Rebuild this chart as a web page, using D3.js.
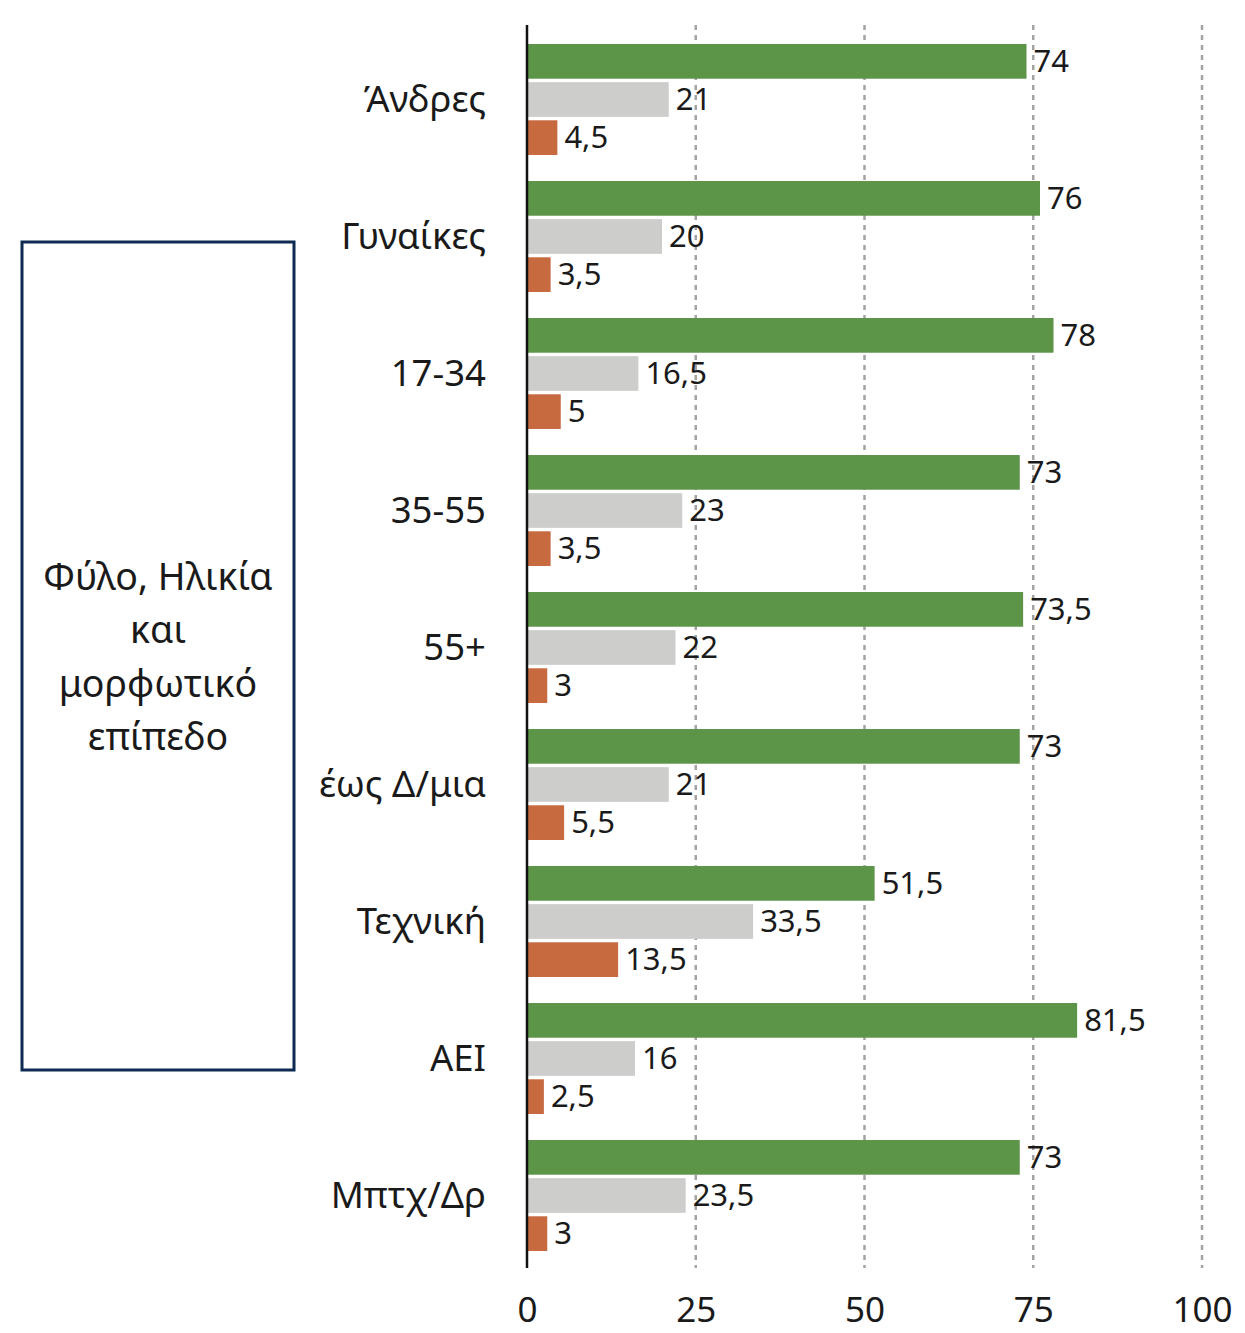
<!DOCTYPE html>
<html>
<head>
<meta charset="utf-8">
<script src="https://cdn.jsdelivr.net/npm/d3@7"></script>
<style>
  html, body { margin: 0; padding: 0; background: #fff; }
  svg { display: block; font-family: "Noto Sans", "Open Sans", sans-serif; }
</style>
</head>
<body>
<svg id="chart" width="1245" height="1333"></svg>
<script>
const categories = ["Άνδρες", "Γυναίκες", "17-34", "35-55", "55+", "έως Δ/μια", "Τεχνική", "ΑΕΙ", "Μπτχ/Δρ"];
const seriesNames = ["s1", "s2", "s3"];
const series1 = [74, 76, 78, 73, 73.5, 73, 51.5, 81.5, 73];
const series2 = [21, 20, 16.5, 23, 22, 21, 33.5, 16, 23.5];
const series3 = [4.5, 3.5, 5, 3.5, 3, 5.5, 13.5, 2.5, 3];
const tickValues = [0, 25, 50, 75, 100];
const boxLines = ["Φύλο, Ηλικία", "και", "μορφωτικό", "επίπεδο"];
const colors = ["#5c9448", "#cdcdcc", "#c86a40"];

const svg = d3.select("#chart");

const x = d3.scaleLinear().domain([0, 100]).range([527, 1202]);
const y = d3.scaleBand().domain(categories).range([31, 1264]).paddingInner(0.19).paddingOuter(0.095);
const ySub = d3.scaleBand().domain(seriesNames).range([0, y.bandwidth()]).paddingInner(0.09);

const fmt = v => String(v).replace(".", ",");

// gridlines
svg.append("g").selectAll("line").data(tickValues.filter(d => d > 0)).join("line")
  .attr("x1", d => x(d)).attr("x2", d => x(d))
  .attr("y1", 25).attr("y2", 1268)
  .attr("stroke", "#a3a3a3").attr("stroke-width", 2.5)
  .attr("stroke-dasharray", "5,5");

// bars
const data = [];
categories.forEach((c, i) => {
  [series1, series2, series3].forEach((s, j) => data.push({ c, k: seriesNames[j], v: s[i], col: colors[j] }));
});

const g = svg.append("g");
g.selectAll("rect").data(data).join("rect")
  .attr("x", x(0))
  .attr("y", d => y(d.c) + ySub(d.k))
  .attr("width", d => x(d.v) - x(0))
  .attr("height", ySub.bandwidth())
  .attr("fill", d => d.col);

g.selectAll("text").data(data).join("text")
  .attr("x", d => x(d.v) + 7)
  .attr("y", d => y(d.c) + ySub(d.k) + ySub.bandwidth() / 2)
  .attr("dy", "0.34em")
  .attr("font-size", 31)
  .attr("fill", "#1a1a1a")
  .text(d => fmt(d.v));

// category labels
svg.append("g").selectAll("text").data(categories).join("text")
  .attr("x", 486)
  .attr("y", d => y(d) + ySub("s2") + ySub.bandwidth() / 2)
  .attr("dy", "0.34em")
  .attr("text-anchor", "end")
  .attr("font-size", 36.5)
  .attr("fill", "#1a1a1a")
  .text(d => d);

// axis line
svg.append("line").attr("x1", x(0)).attr("x2", x(0)).attr("y1", 25).attr("y2", 1268)
  .attr("stroke", "#111").attr("stroke-width", 2.5);

// tick labels
const xAxis = d3.axisBottom(x).tickValues(tickValues).tickSize(0).tickFormat(d => d);
const ax = svg.append("g").attr("transform", "translate(0,1293)").call(xAxis);
ax.select(".domain").remove();
ax.selectAll("text").attr("font-size", 35).attr("fill", "#1a1a1a")
  .attr("font-family", "\"Noto Sans\", sans-serif").attr("dy", "0.75em");

// left box
svg.append("rect").attr("x", 22).attr("y", 242).attr("width", 272).attr("height", 828)
  .attr("fill", "none").attr("stroke", "#0e2a52").attr("stroke-width", 3);

svg.append("g").selectAll("text").data(boxLines).join("text")
  .attr("x", 158)
  .attr("y", (d, i) => 577 + i * 53.5)
  .attr("dy", "0.34em")
  .attr("text-anchor", "middle")
  .attr("font-size", 37.5)
  .attr("fill", "#1a1a1a")
  .text(d => d);
</script>
</body>
</html>
